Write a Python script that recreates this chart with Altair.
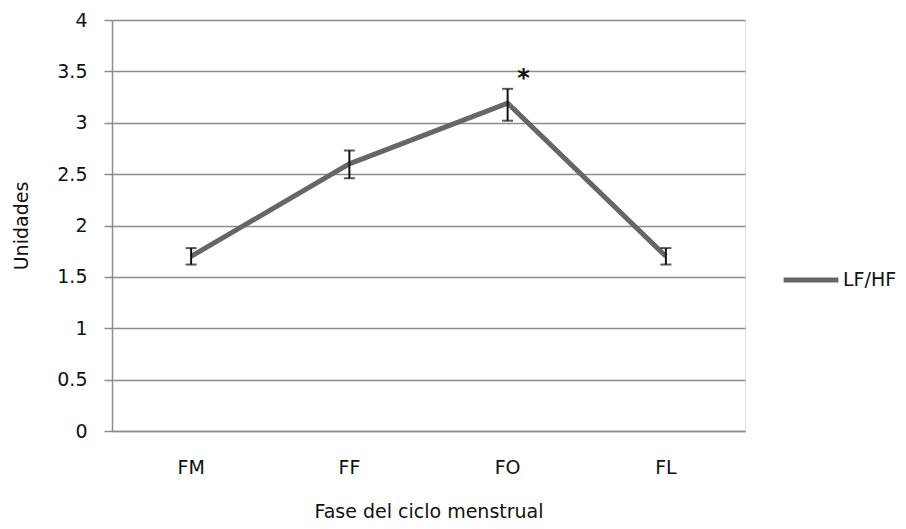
import altair as alt
import pandas as pd

categories = ["FM", "FF", "FO", "FL"]
means = [1.70, 2.60, 3.19, 1.70]
lower = [1.62, 2.46, 3.02, 1.62]
upper = [1.78, 2.73, 3.33, 1.78]
series_name = "LF/HF"
star_category = "FO"
star_value = 3.43

df = pd.DataFrame({"fase": categories, "valor": means, "lo": lower, "hi": upper,
                   "serie": [series_name] * len(categories)})
star_df = pd.DataFrame({"fase": [star_category], "valor": [star_value], "txt": ["*"]})

FONT = "DejaVu Sans"
GRID = "#8c8c8c"
FS = 19

x_scale = alt.Scale(type="band", paddingInner=0, paddingOuter=0)
x = alt.X("fase:N", sort=categories, title="Fase del ciclo menstrual", scale=x_scale,
          axis=alt.Axis(labelAngle=0, ticks=False, grid=False, labelPadding=27, titlePadding=25))
y_scale = alt.Scale(domain=[0, 4], nice=False)
y_axis = alt.Axis(values=[0, 0.5, 1, 1.5, 2, 2.5, 3, 3.5, 4], format="~g",
                  grid=True, ticks=True, tickSize=8, labelPadding=17, titlePadding=25)

def xe():
    return alt.X("fase:N", sort=categories, scale=x_scale, title="Fase del ciclo menstrual")

line = alt.Chart(df).mark_line(strokeWidth=5, color="#666666").encode(
    x=x,
    y=alt.Y("valor:Q", scale=y_scale, axis=y_axis, title="Unidades"),
    color=alt.Color("serie:N", scale=alt.Scale(range=["#666666"]),
                    legend=alt.Legend(title=None, orient="none", legendX=669, legendY=230,
                                      symbolType="stroke", symbolSize=3000,
                                      symbolStrokeWidth=5, labelFontSize=FS,
                                      labelFont=FONT, labelColor="#111", labelOffset=2)),
)

err = alt.Chart(df).mark_rule(color="#111", strokeWidth=2).encode(
    x=xe(), y=alt.Y("lo:Q", title="Unidades"), y2="hi:Q")
cap_lo = alt.Chart(df).mark_tick(color="#111", thickness=2, size=11).encode(
    x=xe(), y=alt.Y("lo:Q", title="Unidades"))
cap_hi = alt.Chart(df).mark_tick(color="#111", thickness=2, size=11).encode(
    x=xe(), y=alt.Y("hi:Q", title="Unidades"))

star = alt.Chart(star_df).mark_text(fontSize=24, fontWeight="bold", dx=16, font=FONT,
                                    color="#111").encode(
    x=xe(), y=alt.Y("valor:Q", title="Unidades"), text="txt:N")

chart = alt.layer(line, err, cap_lo, cap_hi, star).properties(
    width=633, height=411,
    autosize=alt.AutoSizeParams(type="none"),
    padding={"left": 104, "top": 12, "right": 153, "bottom": 97},
).configure_view(stroke=None).configure(background="white").configure_axis(
    labelFont=FONT, titleFont=FONT, labelFontSize=FS, titleFontSize=FS,
    labelColor="#111", titleColor="#111", titleFontWeight="normal",
    domainColor=GRID, domainWidth=1.5, gridColor=GRID, gridWidth=1.5,
    tickColor=GRID, tickWidth=1.5,
)

chart.save("out.html", embed_options={"renderer": "svg", "actions": False})
